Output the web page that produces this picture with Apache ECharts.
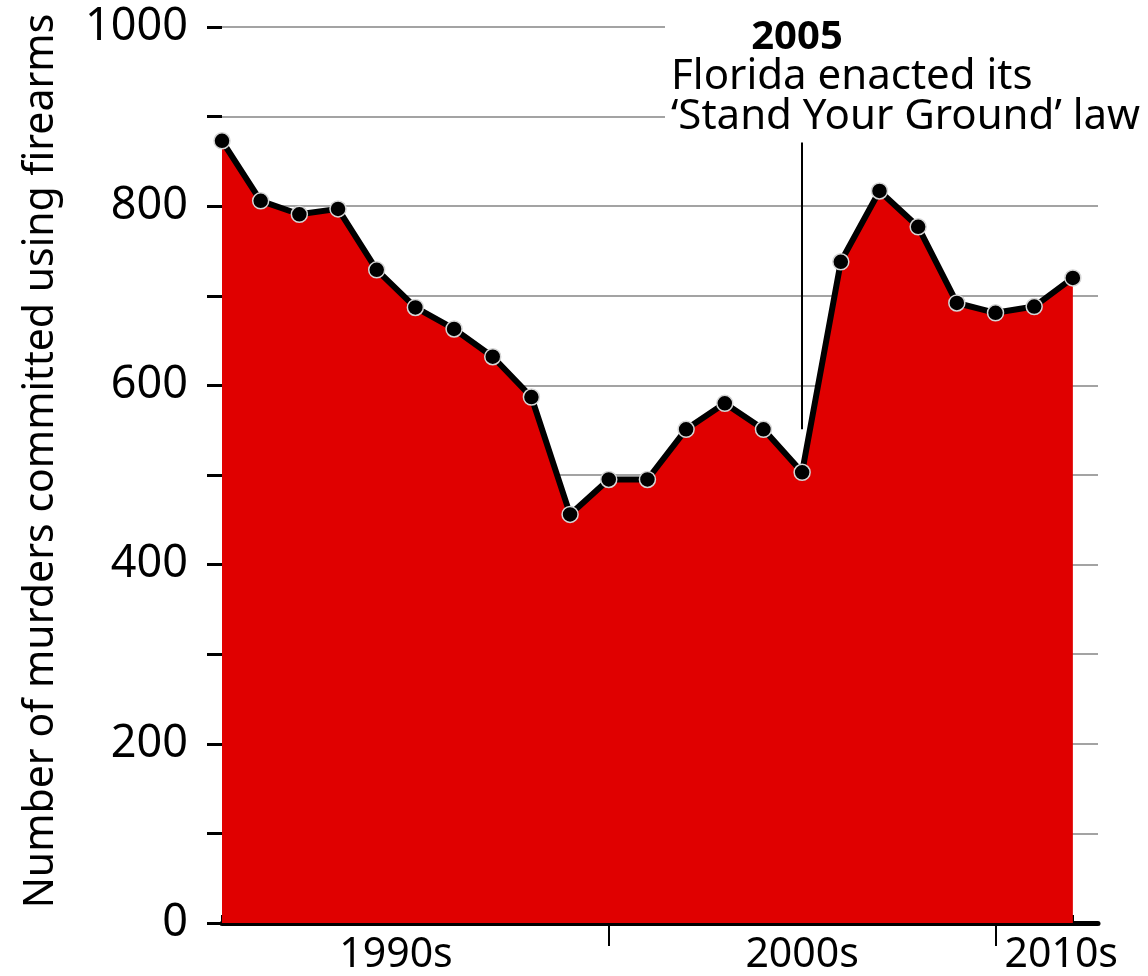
<!DOCTYPE html>
<html>
<head>
<meta charset="utf-8">
<script src="https://cdn.jsdelivr.net/npm/echarts@6/dist/echarts.min.js"></script>
<style>
  html, body { margin: 0; padding: 0; background: #fff; }
  #main { width: 1148px; height: 976px; }
</style>
</head>
<body>
<div id="main"></div>
<script>
// yearly values
const years = [1990, 1991, 1992, 1993, 1994, 1995, 1996, 1997, 1998, 1999, 2000,
  2001, 2002, 2003, 2004, 2005, 2006, 2007, 2008, 2009, 2010, 2011, 2012];
const murders = [873, 806, 791, 797, 729, 687, 663, 632, 587, 456, 495,
  495, 551, 580, 551, 503, 738, 817, 777, 692, 681, 688, 720];
const decadeTicks = [2000, 2010];
const decadeLabels = ['1990s', '2000s', '2010s'];
const decadeLabelPos = [1994.5, 2005, 2011.7];
const yTicks = [0, 200, 400, 600, 800, 1000];
const lawYear = 2005;
const lawLine = [551, 871];
const noteTitle = '2005';
const noteLines = ['Florida enacted its', '\u2018Stand Your Ground\u2019 law'];

const FONT = '"Noto Sans", "Open Sans", sans-serif';
const X_MIN = 1990, X_MAX = 2012.65;

const chart = echarts.init(document.getElementById('main'));

const option = {
  animation: false,
  backgroundColor: '#fff',
  grid: { left: 222, right: 50, top: 27, bottom: 52, containLabel: false },
  xAxis: [
    {
      type: 'value', min: X_MIN, max: X_MAX,
      axisLine: { show: true, lineStyle: { color: '#000', width: 5 } },
      axisTick: { show: true, inside: true, length: 8, customValues: years,
        lineStyle: { color: '#000', width: 2 } },
      axisLabel: { show: false },
      splitLine: { show: false }
    },
    {
      type: 'value', min: X_MIN, max: X_MAX, position: 'bottom',
      axisLine: { show: false },
      axisTick: { show: true, length: 23, customValues: decadeTicks,
        lineStyle: { color: '#000', width: 2 } },
      axisLabel: {
        show: true, customValues: decadeLabelPos, margin: 12,
        fontFamily: FONT, fontSize: 41, color: '#000',
        formatter: v => decadeLabels[decadeLabelPos.indexOf(v)] || ''
      },
      splitLine: { show: false }
    }
  ],
  yAxis: {
    type: 'value', min: 0, max: 1000, interval: 100,
    name: 'Number of murders committed using firearms',
    nameLocation: 'middle', nameGap: 160,
    nameTextStyle: { fontFamily: FONT, fontSize: 41, color: '#000', padding: [0, 0, 0, 28] },
    axisLine: { show: false },
    axisTick: { show: true, length: 15, lineStyle: { color: '#000', width: 3 } },
    axisLabel: {
      margin: 34, fontFamily: FONT, fontSize: 45, color: '#000',
      formatter: v => (yTicks.indexOf(v) >= 0 ? String(v) : '')
    },
    splitLine: { show: true, lineStyle: { color: '#a3a3a3', width: 2 } }
  },
  series: [{
    type: 'line',
    data: years.map((y, i) => [y, murders[i]]),
    symbol: 'circle', symbolSize: 16,
    lineStyle: { color: '#000', width: 6 },
    itemStyle: { color: '#000', borderColor: '#d6d6d6', borderWidth: 1.5 },
    areaStyle: { color: '#e00000', opacity: 1 },
    markLine: {
      silent: true, symbol: 'none', label: { show: false },
      lineStyle: { color: '#000', width: 2, type: 'solid' },
      data: [[{ coord: [lawYear, lawLine[0]] }, { coord: [lawYear, lawLine[1]] }]]
    }
  }],
  graphic: [
    { type: 'rect', z: 100, shape: { x: 665, y: 0, width: 483, height: 136 },
      style: { fill: '#fff' } },
    { type: 'text', z: 101, x: 797, y: 38,
      style: { text: noteTitle, font: 'bold 40px ' + FONT, fill: '#000',
        align: 'center', verticalAlign: 'middle' } },
    { type: 'text', z: 101, x: 671, y: 77,
      style: { text: noteLines[0], font: '42px ' + FONT, fill: '#000',
        align: 'left', verticalAlign: 'middle' } },
    { type: 'text', z: 101, x: 671, y: 117,
      style: { text: noteLines[1], font: '42px ' + FONT, fill: '#000',
        align: 'left', verticalAlign: 'middle' } }
  ]
};

chart.setOption(option);
</script>
</body>
</html>
